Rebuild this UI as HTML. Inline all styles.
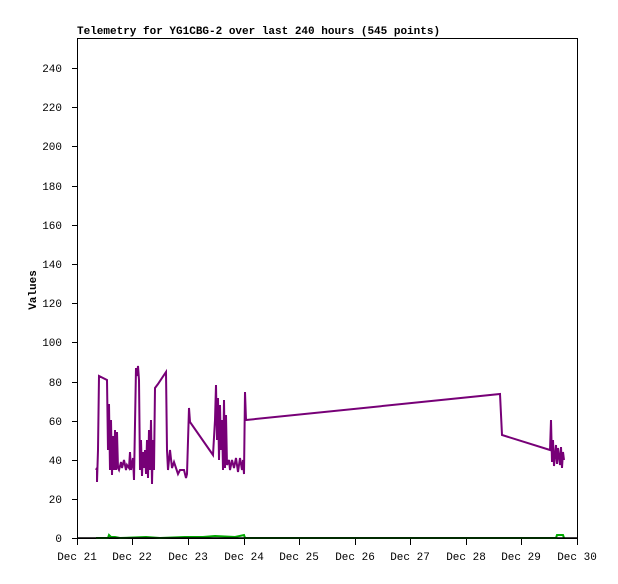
<!DOCTYPE html>
<html><head><style>
body{margin:0;background:#fff;}
svg text{font-family:"Liberation Mono",monospace;font-size:11px;fill:#000;}
</style></head><body>
<svg width="618" height="579" xmlns="http://www.w3.org/2000/svg">
<rect width="618" height="579" fill="#fff"/>
<text x="77" y="34" font-weight="bold" font-size="12">Telemetry for YG1CBG-2 over last 240 hours (545 points)</text>
<rect x="77.5" y="38.5" width="500" height="500" fill="none" stroke="#000"/>
<g stroke="#000">
<line x1="72" y1="538.5" x2="77" y2="538.5"/><line x1="72" y1="499.5" x2="77" y2="499.5"/>
<line x1="72" y1="460.5" x2="77" y2="460.5"/><line x1="72" y1="421.5" x2="77" y2="421.5"/>
<line x1="72" y1="382.5" x2="77" y2="382.5"/><line x1="72" y1="342.5" x2="77" y2="342.5"/>
<line x1="72" y1="303.5" x2="77" y2="303.5"/><line x1="72" y1="264.5" x2="77" y2="264.5"/>
<line x1="72" y1="225.5" x2="77" y2="225.5"/><line x1="72" y1="186.5" x2="77" y2="186.5"/>
<line x1="72" y1="146.5" x2="77" y2="146.5"/><line x1="72" y1="107.5" x2="77" y2="107.5"/>
<line x1="72" y1="68.5" x2="77" y2="68.5"/>
<line x1="77.5" y1="538" x2="77.5" y2="545"/><line x1="132.5" y1="538" x2="132.5" y2="545"/>
<line x1="188.5" y1="538" x2="188.5" y2="545"/><line x1="244.5" y1="538" x2="244.5" y2="545"/>
<line x1="299.5" y1="538" x2="299.5" y2="545"/><line x1="355.5" y1="538" x2="355.5" y2="545"/>
<line x1="410.5" y1="538" x2="410.5" y2="545"/><line x1="466.5" y1="538" x2="466.5" y2="545"/>
<line x1="521.5" y1="538" x2="521.5" y2="545"/><line x1="577.5" y1="538" x2="577.5" y2="545"/>
</g>
<g text-anchor="end">
<text x="62" y="542">0</text><text x="62" y="503">20</text><text x="62" y="464">40</text>
<text x="62" y="425">60</text><text x="62" y="386">80</text><text x="62" y="346">100</text>
<text x="62" y="307">120</text><text x="62" y="268">140</text><text x="62" y="229">160</text>
<text x="62" y="190">180</text><text x="62" y="150">200</text><text x="62" y="111">220</text>
<text x="62" y="72">240</text>
</g>
<g text-anchor="middle">
<text x="77" y="560">Dec 21</text><text x="132" y="560">Dec 22</text><text x="188" y="560">Dec 23</text>
<text x="244" y="560">Dec 24</text><text x="299" y="560">Dec 25</text><text x="355" y="560">Dec 26</text>
<text x="410" y="560">Dec 27</text><text x="466" y="560">Dec 28</text><text x="521" y="560">Dec 29</text>
<text x="577" y="560">Dec 30</text>
</g>
<text transform="translate(36,290) rotate(-90)" text-anchor="middle" font-weight="bold">Values</text>
<polyline fill="none" stroke="#770077" stroke-width="2" points="96,470 97,468 97,482 98,450 99,376 107,380 108,450 109,404 110,470 111,420 112,475 113,436 114,470 115,430 116,470 117,432 118,468 119,470 121,462 122,468 124,460 126,470 127,465 129,468 130,452 131,470 133,458 134,480 136,368 137,376 138,366 139,380 140,470 141,440 142,476 143,452 144,468 145,450 146,474 147,440 148,478 149,430 150,470 151,420 152,484 153,440 154,470 155,388 158,384 166,372 167,450 168,470 170,450 172,468 174,462 176,468 178,474 180,470 184,470 186,478 187,474 189,408 190,422 213,455 215,420 216,385 217,440 218,398 219,460 220,405 221,450 222,420 223,470 224,400 225,468 226,415 227,465 229,460 230,470 232,460 234,468 236,458 238,472 240,458 242,470 243,460 244,474 245,392 246,420 500,394 502,435 550,450 551,420 552,462 553,440 554,466 556,445 557,464 558,448 560,465 561,447 562,468 563,452 564,460"/>
<polyline fill="none" stroke="#00aa00" stroke-width="2" points="96,538 108,538 109,535 111,537 115,537 120,538 146,537 160,538 185,537 203,537 215,536 235,537 244,535 245,538 556,538 557,535 563,535 564,538"/>
<line x1="78" y1="538" x2="577" y2="538" stroke="#000" stroke-width="1.5"/>
</svg>
</body></html>
